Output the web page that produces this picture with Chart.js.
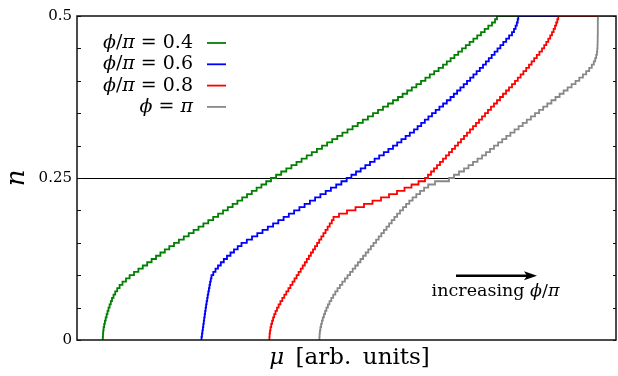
<!DOCTYPE html>
<html>
<head>
<meta charset="utf-8">
<script src="https://cdn.jsdelivr.net/npm/chart.js@4.4.1/dist/chart.umd.min.js"></script>
<style>
  html, body { margin: 0; padding: 0; background: #fff; }
</style>
</head>
<body>
<canvas id="fillingChart" width="618" height="376"></canvas>
<script>
// filling levels n (one step per added particle)
const nLevels = [
    0, 0.005, 0.01, 0.015, 0.02, 0.025, 0.03, 0.035, 0.04, 0.045,
    0.05, 0.055, 0.06, 0.065, 0.07, 0.075, 0.08, 0.085, 0.09, 0.095,
    0.1, 0.105, 0.11, 0.115, 0.12, 0.125, 0.13, 0.135, 0.14, 0.145,
    0.15, 0.155, 0.16, 0.165, 0.17, 0.175, 0.18, 0.185, 0.19, 0.195,
    0.2, 0.205, 0.21, 0.215, 0.22, 0.225, 0.23, 0.235, 0.24, 0.245,
    0.25, 0.255, 0.26, 0.265, 0.27, 0.275, 0.28, 0.285, 0.29, 0.295,
    0.3, 0.305, 0.31, 0.315, 0.32, 0.325, 0.33, 0.335, 0.34, 0.345,
    0.35, 0.355, 0.36, 0.365, 0.37, 0.375, 0.38, 0.385, 0.39, 0.395,
    0.4, 0.405, 0.41, 0.415, 0.42, 0.425, 0.43, 0.435, 0.44, 0.445,
    0.45, 0.455, 0.46, 0.465, 0.47, 0.475, 0.48, 0.485, 0.49, 0.495,
    0.5
];

// chemical potential at which each level is reached
const muPhi04 = [
    0.257, 0.258, 0.260, 0.262, 0.266, 0.272, 0.279, 0.287, 0.296, 0.305,
    0.315, 0.326, 0.338, 0.350, 0.365, 0.382, 0.402, 0.426, 0.455, 0.490,
    0.526, 0.570, 0.614, 0.658, 0.702, 0.746, 0.790, 0.834, 0.878, 0.923,
    0.970, 1.019, 1.068, 1.117, 1.166, 1.215, 1.264, 1.313, 1.362, 1.411,
    1.460, 1.508, 1.556, 1.604, 1.652, 1.700, 1.748, 1.796, 1.844, 1.892,
    1.940, 1.991, 2.042, 2.093, 2.144, 2.195, 2.246, 2.297, 2.348, 2.399,
    2.450, 2.501, 2.552, 2.603, 2.654, 2.705, 2.756, 2.807, 2.858, 2.909,
    2.960, 3.010, 3.060, 3.110, 3.160, 3.210, 3.256, 3.302, 3.348, 3.394,
    3.440, 3.484, 3.528, 3.572, 3.616, 3.660, 3.698, 3.736, 3.774, 3.812,
    3.850, 3.888, 3.926, 3.964, 4.002, 4.040, 4.077, 4.113, 4.150, 4.180,
    4.200
];
const muPhi06 = [
    1.240, 1.245, 1.250, 1.254, 1.259, 1.263, 1.268, 1.272, 1.277, 1.281,
    1.286, 1.291, 1.296, 1.302, 1.307, 1.313, 1.319, 1.325, 1.331, 1.338,
    1.345, 1.363, 1.385, 1.410, 1.438, 1.468, 1.500, 1.535, 1.570, 1.607,
    1.645, 1.698, 1.750, 1.803, 1.855, 1.908, 1.961, 2.013, 2.066, 2.118,
    2.171, 2.224, 2.276, 2.329, 2.381, 2.434, 2.487, 2.539, 2.592, 2.644,
    2.697, 2.744, 2.790, 2.837, 2.883, 2.930, 2.976, 3.022, 3.068, 3.114,
    3.160, 3.202, 3.244, 3.286, 3.328, 3.370, 3.406, 3.442, 3.478, 3.514,
    3.550, 3.587, 3.624, 3.661, 3.698, 3.735, 3.768, 3.801, 3.834, 3.867,
    3.900, 3.932, 3.964, 3.996, 4.028, 4.060, 4.089, 4.118, 4.147, 4.176,
    4.205, 4.234, 4.263, 4.292, 4.321, 4.350, 4.370, 4.386, 4.398, 4.407,
    4.413
];
const muPhi08 = [
    1.923, 1.924, 1.926, 1.930, 1.935, 1.942, 1.951, 1.961, 1.972, 1.985,
    2.000, 2.016, 2.034, 2.053, 2.073, 2.093, 2.114, 2.134, 2.155, 2.175,
    2.196, 2.216, 2.237, 2.257, 2.278, 2.298, 2.319, 2.339, 2.360, 2.380,
    2.401, 2.422, 2.443, 2.464, 2.485, 2.506, 2.527, 2.548, 2.565, 2.620,
    2.700, 2.785, 2.870, 2.955, 3.040, 3.120, 3.200, 3.275, 3.345, 3.415,
    3.480, 3.510, 3.540, 3.570, 3.600, 3.630, 3.660, 3.690, 3.720, 3.750,
    3.780, 3.810, 3.840, 3.870, 3.900, 3.930, 3.960, 3.990, 4.020, 4.050,
    4.080, 4.110, 4.140, 4.170, 4.200, 4.230, 4.260, 4.290, 4.320, 4.350,
    4.380, 4.408, 4.436, 4.464, 4.492, 4.520, 4.546, 4.572, 4.598, 4.624,
    4.650, 4.672, 4.693, 4.713, 4.732, 4.750, 4.766, 4.780, 4.792, 4.803,
    4.813
];
const muPhi10 = [
    2.423, 2.424, 2.426, 2.429, 2.434, 2.441, 2.449, 2.458, 2.469, 2.481,
    2.494, 2.509, 2.525, 2.543, 2.562, 2.583, 2.605, 2.629, 2.653, 2.679,
    2.705, 2.731, 2.757, 2.783, 2.809, 2.835, 2.861, 2.887, 2.913, 2.939,
    2.965, 2.991, 3.017, 3.043, 3.069, 3.095, 3.121, 3.147, 3.174, 3.201,
    3.230, 3.260, 3.291, 3.323, 3.356, 3.393, 3.431, 3.471, 3.512, 3.580,
    3.720, 3.770, 3.820, 3.870, 3.915, 3.960, 4.005, 4.050, 4.090, 4.130,
    4.170, 4.211, 4.252, 4.293, 4.334, 4.375, 4.416, 4.457, 4.498, 4.539,
    4.580, 4.621, 4.662, 4.703, 4.744, 4.785, 4.826, 4.866, 4.906, 4.946,
    4.985, 5.023, 5.059, 5.092, 5.122, 5.148, 5.168, 5.182, 5.192, 5.199,
    5.203, 5.205, 5.206, 5.207, 5.207, 5.208, 5.208, 5.208, 5.208, 5.208,
    5.209
];

const seriesLabels = ['ϕ/π = 0.4', 'ϕ/π = 0.6', 'ϕ/π = 0.8', 'ϕ = π'];
const seriesColors = ['#008000', '#0000ff', '#ff0000', '#888888'];
const seriesMu = [muPhi04, muPhi06, muPhi08, muPhi10];

const yTickValues = [0, 0.25, 0.5];
const yTickLabels = ['0', '0.25', '0.5'];

const muMin = 0, muMax = 5.39;
const nHalf = 0.5;

// arrow "increasing ϕ/π"
const arrowMu = [3.79, 4.60];
const arrowN = 0.099;
const arrowText = 'increasing ϕ/π';

const FONT = '"DejaVu Serif"';
const GREEK = /[\u0370-\u03ff]/;

// draw text with greek letters in italic, like math mode
function drawMath(ctx, text, x, y, size, align, allItalic) {
    const runs = [];
    for (const ch of text) {
        const it = allItalic || GREEK.test(ch);
        const last = runs[runs.length - 1];
        if (last && last.it === it) last.t += ch;
        else runs.push({ t: ch, it: it });
    }
    let total = 0;
    runs.forEach(r => {
        r.font = (r.it ? 'italic ' : '') + size + 'px ' + FONT;
        ctx.font = r.font;
        r.w = ctx.measureText(r.t).width;
        total += r.w;
    });
    let cx = align === 'right' ? x - total : align === 'center' ? x - total / 2 : x;
    ctx.textAlign = 'left';
    runs.forEach(r => {
        ctx.font = r.font;
        ctx.fillText(r.t, cx, y);
        cx += r.w;
    });
}

const decorations = {
    id: 'decorations',
    afterDatasetsDraw(chart) {
        const { ctx, chartArea: a, scales: { y } } = chart;
        ctx.save();
        // small inward ticks on both sides
        ctx.strokeStyle = '#111';
        ctx.lineWidth = 1;
        y.ticks.forEach(t => {
            const py = Math.round(y.getPixelForValue(t.value)) + 0.5;
            ctx.beginPath();
            ctx.moveTo(a.left, py); ctx.lineTo(a.left + 4, py);
            ctx.moveTo(a.right, py); ctx.lineTo(a.right - 3, py);
            ctx.stroke();
        });
        // frame
        ctx.lineWidth = 1.5;
        ctx.strokeRect(a.left, a.top, a.right - a.left, a.bottom - a.top);
        ctx.restore();
    },
    afterDraw(chart) {
        const { ctx, chartArea: a, scales: { x, y } } = chart;
        ctx.save();
        ctx.fillStyle = '#000';

        // legend: label on the left, line sample on the right
        ctx.textBaseline = 'middle';
        chart.data.datasets.forEach((ds, i) => {
            const py = a.top + 27 + i * 21.3;
            ctx.fillStyle = '#000';
            drawMath(ctx, ds.label, a.left + 116, py, 19, 'right');
            ctx.strokeStyle = ds.borderColor;
            ctx.lineWidth = 1.8;
            ctx.beginPath();
            ctx.moveTo(a.left + 130, py);
            ctx.lineTo(a.left + 149, py);
            ctx.stroke();
        });

        // arrow
        const x0 = x.getPixelForValue(arrowMu[0]);
        const x1 = x.getPixelForValue(arrowMu[1]);
        const ya = y.getPixelForValue(arrowN);
        ctx.strokeStyle = '#000';
        ctx.lineWidth = 2.5;
        ctx.beginPath();
        ctx.moveTo(x0, ya);
        ctx.lineTo(x1 - 8, ya);
        ctx.stroke();
        ctx.beginPath();
        ctx.moveTo(x1, ya);
        ctx.lineTo(x1 - 13, ya - 4.5);
        ctx.lineTo(x1 - 10, ya);
        ctx.lineTo(x1 - 13, ya + 4.5);
        ctx.closePath();
        ctx.fill();
        ctx.textBaseline = 'alphabetic';
        drawMath(ctx, arrowText, (x0 + x1) / 2 - 1, ya + 20.5, 17.5, 'center');

        // axis titles
        drawMath(ctx, 'μ\u2002[arb.\u2002units]', (a.left + a.right) / 2 + 3, a.bottom + 24, 23, 'center');
        ctx.translate(17, (a.top + a.bottom) / 2);
        ctx.rotate(-Math.PI / 2);
        ctx.textBaseline = 'middle';
        drawMath(ctx, 'n', 0, 0, 26, 'center', true);
        ctx.restore();
    }
};

const datasets = seriesMu.map((mu, i) => ({
    label: seriesLabels[i],
    data: mu.map((m, k) => ({ x: m, y: nLevels[k] })).concat([{ x: muMax, y: nHalf }]),
    borderColor: seriesColors[i],
    borderWidth: 1.8,
    pointRadius: 0,
    stepped: 'before',
    fill: false,
    order: seriesMu.length - 1 - i
}));

new Chart(document.getElementById('fillingChart'), {
    type: 'line',
    data: { datasets: datasets },
    options: {
        responsive: false,
        animation: false,
        layout: { padding: { top: 16, right: 2, bottom: 36, left: 0 } },
        plugins: { legend: { display: false }, tooltip: { enabled: false } },
        scales: {
            x: { type: 'linear', min: muMin, max: muMax, display: false },
            y: {
                type: 'linear',
                min: 0,
                max: nHalf,
                afterFit: s => { s.width = 77; },
                border: { display: false },
                grid: {
                    drawTicks: false,
                    lineWidth: 1,
                    color: c => (c.tick && Math.abs(c.tick.value - 0.25) < 1e-9) ? '#000' : 'rgba(0,0,0,0)'
                },
                ticks: {
                    stepSize: 0.05,
                    autoSkip: false,
                    padding: 5,
                    color: '#000',
                    font: { family: 'DejaVu Serif', size: 15 },
                    callback: v => {
                        const i = yTickValues.findIndex(t => Math.abs(t - v) < 1e-9);
                        return i < 0 ? '' : yTickLabels[i];
                    }
                }
            }
        }
    },
    plugins: [decorations]
});
</script>
</body>
</html>
